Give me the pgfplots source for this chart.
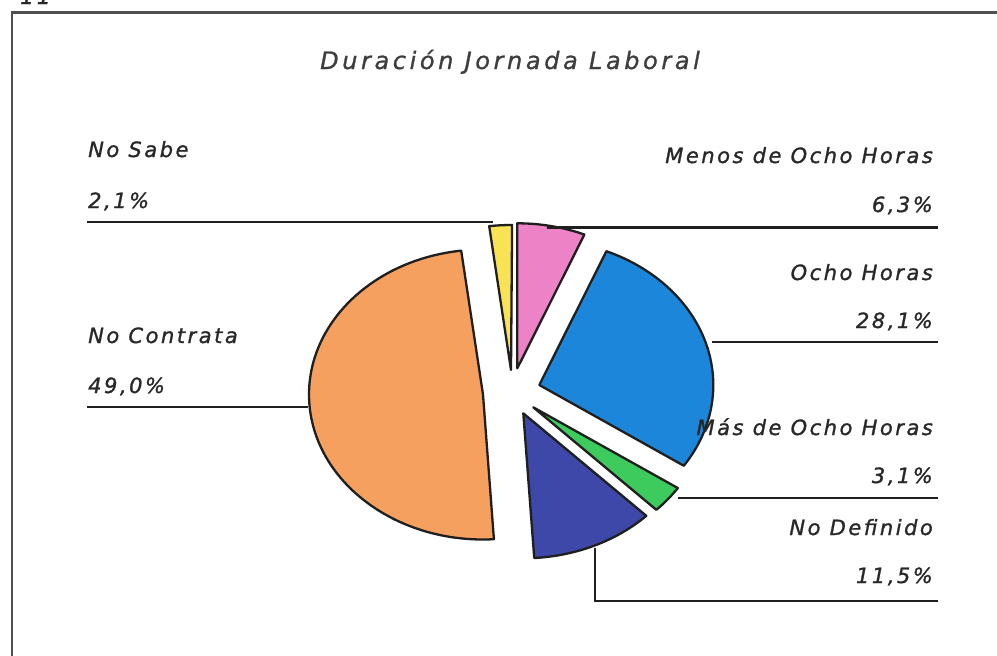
\documentclass[border=0pt]{standalone}
\usepackage{fontspec}
\usepackage{pgfplots}
\pgfplotsset{compat=1.18}
\newfontfamily\labfont[LetterSpace=12, FakeBold=1.2]{DejaVu Sans}
\newfontfamily\titfont[LetterSpace=15, FakeBold=1.0]{DejaVu Sans}
\definecolor{cOrange}{RGB}{245,160,95}
\definecolor{cBlue}{RGB}{28,135,218}
\definecolor{cNavy}{RGB}{61,72,168}
\definecolor{cGreen}{RGB}{60,203,92}
\definecolor{cPink}{RGB}{238,130,198}
\definecolor{cYellow}{RGB}{247,227,83}
\definecolor{txt}{RGB}{40,40,40}
\definecolor{frame}{RGB}{80,80,80}
\begin{document}
\begin{tikzpicture}
\path[use as bounding box, fill=white] (0,0) rectangle (997pt,656pt);
% slice shares (percent), clockwise from the top
\def\vPink{6.3}\def\vBlue{28.1}\def\vGreen{3.1}\def\vNavy{11.5}\def\vOrange{49.0}\def\vYellow{2.1}
\pgfmathsetmacro\tA{90}
\pgfmathsetmacro\tB{\tA-3.6*\vPink}
\pgfmathsetmacro\tC{\tB-3.6*\vBlue}
\pgfmathsetmacro\tD{\tC-3.6*\vGreen}
\pgfmathsetmacro\tE{\tD-3.6*\vNavy}
\pgfmathsetmacro\tF{\tE-3.6*\vOrange}
\pgfmathsetmacro\tG{\tF-3.6*\vYellow}
\def\rx{174}\def\ry{145}
\newcommand\slice[5]{%
  \draw[line width=2.3pt, line join=round, draw=black!88, fill=#1]
    (axis cs:#2,#3) -- (axis cs:{#2+\rx*cos(#4)},{#3-\ry*sin(#4)})
    arc[start angle=#4, end angle=#5, x radius=\rx pt, y radius=\ry pt] -- cycle;}
\begin{axis}[at={(0,0)}, anchor=south west,
  width=997pt, height=656pt, scale only axis,
  xmin=0, xmax=997, ymin=0, ymax=656, y dir=reverse,
  hide axis, clip=false]
% frame
\draw[frame, line width=2.2pt] (axis cs:12,656) -- (axis cs:12,12.5) -- (axis cs:997,12.5);
\node[anchor=base west, inner sep=0, text=txt, font=\labfont\itshape\fontsize{22}{22}\selectfont] at (axis cs:20,4) {11};
% pie slices
\slice{cPink}{517.3}{368.3}{\tA}{\tB}
\slice{cBlue}{539.3}{385}{\tB}{\tC}
\slice{cGreen}{533.3}{407.3}{\tC}{\tD}
\slice{cNavy}{523.3}{413.3}{\tD}{\tE}
\slice{cOrange}{483}{394.5}{\tE}{\tF}
\slice{cYellow}{511}{370}{\tF}{\tG}
% leader lines
\tikzset{lead/.style={black!88, line width=2.3pt}}
\draw[lead] (axis cs:87,222) -- (axis cs:493,222);
\draw[lead] (axis cs:87,407) -- (axis cs:308,407);
\draw[lead] (axis cs:547,227.5) -- (axis cs:938,227.5);
\draw[lead] (axis cs:712,342) -- (axis cs:938,342);
\draw[lead] (axis cs:678,498) -- (axis cs:938,498);
\draw[lead] (axis cs:595,548) -- (axis cs:595,601) -- (axis cs:938,601);
% title
\node[anchor=base, inner sep=0, text=txt!90, font=\titfont\itshape\fontsize{24}{24}\selectfont] at (axis cs:510,69) {Duración Jornada Laboral};
% labels
\tikzset{lab/.style={inner sep=0, text=txt, font=\labfont\itshape\fontsize{21}{21}\selectfont}}
\node[lab, anchor=base west] at (axis cs:88,157) {No Sabe};
\node[lab, anchor=base west] at (axis cs:88,208) {2,1\%};
\node[lab, anchor=base west] at (axis cs:88,343) {No Contrata};
\node[lab, anchor=base west] at (axis cs:88,393) {49,0\%};
\node[lab, anchor=base east] at (axis cs:933,163) {Menos de Ocho Horas};
\node[lab, anchor=base east] at (axis cs:933,212) {6,3\%};
\node[lab, anchor=base east] at (axis cs:933,280) {Ocho Horas};
\node[lab, anchor=base east] at (axis cs:933,328) {28,1\%};
\node[lab, anchor=base east] at (axis cs:933,435) {Más de Ocho Horas};
\node[lab, anchor=base east] at (axis cs:933,483) {3,1\%};
\node[lab, anchor=base east] at (axis cs:933,535) {No Definido};
\node[lab, anchor=base east] at (axis cs:933,583) {11,5\%};
\end{axis}
\end{tikzpicture}
\end{document}
